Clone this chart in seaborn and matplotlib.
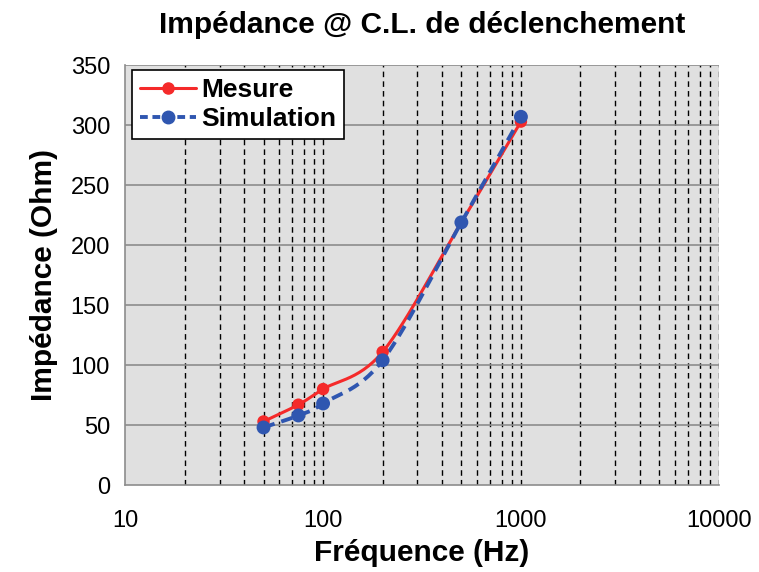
import numpy as np
import pandas as pd
import matplotlib
matplotlib.use("Agg")
import matplotlib.pyplot as plt
from matplotlib.lines import Line2D
from matplotlib.ticker import NullFormatter
import seaborn as sns

# valeurs
freq = [50, 75, 100, 200, 500, 1000]
mesure = [53, 67, 80, 111, 219, 303]
simulation = [48, 58, 68, 104, 219, 307]

sns.set_style("white")
plt.rcParams['font.family'] = ['Liberation Sans', 'DejaVu Sans']
plt.rcParams['text.color'] = 'black'
plt.rcParams['axes.labelcolor'] = 'black'
plt.rcParams['xtick.color'] = 'black'
plt.rcParams['ytick.color'] = 'black'

RED = "#f52a2a"
BLUE = "#2f56b0"


def lissage(x, y, n=30):
    # courbe lissée type Excel (Catmull-Rom en log x)
    lx = np.log10(x)
    y = np.asarray(y, float)
    px = np.concatenate([[2 * lx[0] - lx[1]], lx, [2 * lx[-1] - lx[-2]]])
    py = np.concatenate([[2 * y[0] - y[1]], y, [2 * y[-1] - y[-2]]])
    xs, ys = [], []
    for i in range(1, len(px) - 2):
        t = np.linspace(0, 1, n)
        for p, out in ((px, xs), (py, ys)):
            p0, p1, p2, p3 = p[i - 1], p[i], p[i + 1], p[i + 2]
            out.extend(0.5 * ((2 * p1) + (-p0 + p2) * t
                              + (2 * p0 - 5 * p1 + 4 * p2 - p3) * t ** 2
                              + (-p0 + 3 * p1 - 3 * p2 + p3) * t ** 3))
    return 10 ** np.array(xs), np.array(ys)


fig = plt.figure(figsize=(7.59, 5.72), dpi=100)
ax = fig.add_axes([0.165, 0.152, 0.782, 0.734])
ax.set_facecolor("#e0e0e0")

ax.set_xscale("log")
ax.set_xlim(10, 10000)
ax.set_ylim(0, 350)
ax.set_yticks(range(0, 351, 50))

# grille verticale pointillée noire (majeure + mineure)
vx = [m * 10 ** d for d in range(1, 4) for m in range(1, 10)] + [10000]
for v in vx[1:]:
    ax.axvline(v, color="black", lw=1.0, ls=(0, (4, 3)), zorder=1)
for h in range(50, 351, 50):
    ax.axhline(h, color="#8c8c8c", lw=1.2, zorder=1)

xs, ys = lissage(freq, mesure)
sns.lineplot(x=xs, y=ys, ax=ax, color=RED, lw=2.2, sort=False, zorder=3)
xs, ys = lissage(freq, simulation)
sns.lineplot(x=xs, y=ys, ax=ax, color=BLUE, lw=2.8, sort=False, zorder=4,
             dashes=False, linestyle=(0, (3, 1.8)))
sns.scatterplot(x=freq, y=mesure, ax=ax, color=RED, s=80, edgecolor="none", zorder=5)
sns.scatterplot(x=freq, y=simulation, ax=ax, color=BLUE, s=100, edgecolor="none", zorder=6)

for s in ["top", "right"]:
    ax.spines[s].set_visible(False)
for s in ["left", "bottom"]:
    ax.spines[s].set_color("#8c8c8c")
    ax.spines[s].set_linewidth(1.2)

ax.xaxis.set_minor_formatter(NullFormatter())
ax.tick_params(axis="x", which="minor", length=0)
ax.tick_params(axis="both", which="major", direction="out", length=6,
               color="#8c8c8c", width=1.2, labelsize=17, labelcolor="black")
ax.tick_params(axis="x", pad=12)
ax.tick_params(axis="y", pad=5)
ax.set_xticks([10, 100, 1000, 10000])
ax.set_xticklabels(["10", "100", "1000", "10000"])

ax.set_title("Impédance @ C.L. de déclenchement", fontsize=21.5, fontweight="bold", pad=23)
ax.set_xlabel("Fréquence (Hz)", fontsize=21.5, fontweight="bold", labelpad=5)
ax.set_ylabel("Impédance (Ohm)", fontsize=21.5, fontweight="bold", labelpad=9)

handles = [
    Line2D([], [], color=RED, lw=2.2, marker="o", markersize=8),
    Line2D([], [], color=BLUE, lw=2.8, ls=(0, (2, 1.2)), marker="o", markersize=9),
]
leg = ax.legend(handles, ["Mesure", "Simulation"], loc="upper left",
                bbox_to_anchor=(0.012, 0.988), borderaxespad=0, fancybox=False,
                framealpha=1, edgecolor="black", prop={"weight": "bold", "size": 19},
                handlelength=2.1, handletextpad=0.2, borderpad=0.3, labelspacing=0.2)
leg.get_frame().set_linewidth(1.2)

fig.savefig("out.png", dpi=100)
